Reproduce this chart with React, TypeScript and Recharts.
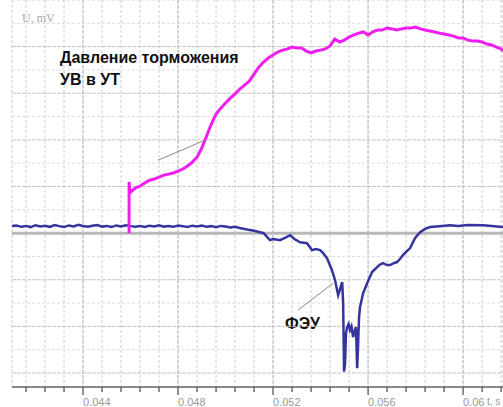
import React from 'react';
import { LineChart, Line, XAxis, YAxis, CartesianGrid, ReferenceLine } from 'recharts';

const xDomain: [number, number] = [0.04101, 0.06168];
const yDomain: [number, number] = [-6.6, 10];

const xMajorTicks = [0.044, 0.048, 0.052, 0.056, 0.06];
const xTickLabels = ['0.044', '0.048', '0.052', '0.056', '0.06'];
const xMinorTicks = [
  0.0416, 0.0424, 0.0432, 0.044, 0.0448, 0.0456, 0.0464, 0.0472, 0.048, 0.0488, 0.0496,
  0.0504, 0.0512, 0.052, 0.0528, 0.0536, 0.0544, 0.0552, 0.056, 0.0568, 0.0576, 0.0584,
  0.0592, 0.06, 0.0608, 0.0616,
];
const yGridValues = [-6, -5, -4, -3, -2, -1, 0, 1, 2, 3, 4, 5, 6, 7, 8, 9];
const yMinorGrid = [-5, -3, -1, 1, 3, 5, 7, 9];
const yMajorGrid = [-6, -4, -2, 2, 4, 6, 8];

// Pressure (magenta) trace
const pressureT = [
  0.04594, 0.04594, 0.04598, 0.046, 0.0462, 0.0464, 0.0466, 0.0468, 0.047, 0.0472, 0.0474,
  0.0476, 0.0478, 0.048, 0.0482, 0.0484, 0.0486, 0.0488, 0.049, 0.0492, 0.0494, 0.0496,
  0.0498, 0.05, 0.0502, 0.0504, 0.0506, 0.0508, 0.051, 0.0512, 0.0514, 0.0516, 0.0518,
  0.052, 0.0522, 0.0524, 0.0526, 0.0528, 0.053, 0.0532, 0.0534, 0.0536, 0.0538, 0.054,
  0.0542, 0.0544, 0.0546, 0.0548, 0.055, 0.0552, 0.0554, 0.0556, 0.0558, 0.056, 0.0562,
  0.0564, 0.0566, 0.0568, 0.057, 0.0572, 0.0574, 0.0576, 0.0578, 0.058, 0.0582, 0.0584,
  0.0586, 0.0588, 0.059, 0.0592, 0.0594, 0.0596, 0.0598, 0.06, 0.0602, 0.0604, 0.0606,
  0.0608, 0.061, 0.0612, 0.0614, 0.0616, 0.06168,
];
const pressureV = [
  0, 2.2, 1.7, 1.76, 1.93, 2.02, 2.15, 2.27, 2.32, 2.4, 2.49,
  2.53, 2.58, 2.66, 2.75, 2.88, 3.05, 3.26, 3.65, 4.16, 4.68, 5.11,
  5.36, 5.58, 5.79, 5.97, 6.18, 6.35, 6.52, 6.82, 7.12, 7.34, 7.51,
  7.64, 7.77, 7.85, 7.9, 7.98, 7.94, 7.94, 7.81, 7.73, 7.81, 7.85,
  7.9, 8.03, 8.33, 8.2, 8.28, 8.41, 8.5, 8.58, 8.63, 8.5, 8.63,
  8.71, 8.71, 8.8, 8.76, 8.71, 8.76, 8.8, 8.8, 8.84, 8.76, 8.71,
  8.67, 8.63, 8.58, 8.54, 8.5, 8.45, 8.37, 8.37, 8.28, 8.24, 8.24,
  8.2, 8.11, 8.07, 7.98, 7.9, 7.81,
];

// Photomultiplier (blue) trace
const pmtT = [
  0.04101, 0.0412, 0.0414, 0.0416, 0.0418, 0.042, 0.0422, 0.0424, 0.0426, 0.0428, 0.043,
  0.0432, 0.0434, 0.0436, 0.0438, 0.044, 0.0442, 0.0444, 0.0446, 0.0448, 0.045, 0.0452,
  0.0454, 0.0456, 0.0458, 0.046, 0.0462, 0.0464, 0.0466, 0.0468, 0.047, 0.0472, 0.0474,
  0.0476, 0.0478, 0.048, 0.0482, 0.0484, 0.0486, 0.0488, 0.049, 0.0492, 0.0494, 0.0496,
  0.0498, 0.05, 0.0502, 0.0504, 0.0506, 0.0508, 0.05103, 0.0512, 0.05145, 0.0516, 0.05187,
  0.052, 0.05229, 0.0525, 0.05272, 0.0529, 0.05314, 0.05343, 0.05364, 0.0538, 0.05398,
  0.0541, 0.05427, 0.05448, 0.05461, 0.05474, 0.05482, 0.05491, 0.05495, 0.05499, 0.05503,
  0.05507, 0.05512, 0.05518, 0.05524, 0.0553, 0.05537, 0.05543, 0.05549, 0.05554, 0.05558,
  0.05562, 0.05566, 0.05579, 0.05596, 0.05617, 0.05638, 0.0565, 0.05663, 0.0568, 0.05693,
  0.0571, 0.05722, 0.05735, 0.05747, 0.0576, 0.05777, 0.05798, 0.05819, 0.0584, 0.05861,
  0.059, 0.05945, 0.0598, 0.0602, 0.06084, 0.0612, 0.06164, 0.06168,
];
const pmtV = [
  0.3, 0.33, 0.27, 0.31, 0.26, 0.34, 0.29, 0.32, 0.27, 0.35, 0.3,
  0.26, 0.33, 0.29, 0.36, 0.31, 0.27, 0.32, 0.35, 0.28, 0.31, 0.26,
  0.33, 0.29, 0.34, 0.3, 0.27, 0.31, 0.26, 0.32, 0.29, 0.34, 0.28,
  0.31, 0.27, 0.33, 0.3, 0.26, 0.32, 0.29, 0.33, 0.27, 0.3, 0.25,
  0.31, 0.28, 0.24, 0.27, 0.22, 0.18, 0.13, 0.1, 0.04, 0.0, -0.3,
  -0.25, -0.3, -0.2, -0.09, -0.25, -0.39, -0.43, -0.73, -0.68, -0.73,
  -0.85, -1.07, -1.59, -2.02, -2.66, -2.4, -2.1, -3.0, -5.94, -5.6,
  -4.3, -4.03, -3.9, -4.16, -4.0, -4.46, -4.2, -4.03, -5.79, -4.8,
  -3.6, -3.18, -2.58, -2.15, -1.67, -1.46, -1.35, -1.29, -1.37, -1.37,
  -1.28, -1.24, -1.1, -0.94, -0.8, -0.64, -0.21, 0.04, 0.18, 0.26,
  0.3, 0.34, 0.31, 0.35, 0.34, 0.31, 0.26, 0.27,
];

const pressureData = pressureT.map((t, i) => ({ t, v: pressureV[i] }));
const pmtData = pmtT.map((t, i) => ({ t, v: pmtV[i] }));

const leader1: [{ x: number; y: number }, { x: number; y: number }] = [
  { x: 0.04716, y: 3.13 },
  { x: 0.04914, y: 3.99 },
];
const leader2: [{ x: number; y: number }, { x: number; y: number }] = [
  { x: 0.05305, y: -3.3 },
  { x: 0.05453, y: -2.15 },
];

const AxisTick = (props: any) => {
  const { x, y, payload } = props;
  const idx = xMajorTicks.findIndex((m) => Math.abs(m - payload.value) < 1e-7);
  const major = idx >= 0;
  return (
    <g>
      <line x1={x} x2={x} y1={y} y2={y + (major ? 8 : 5)} stroke="#555" strokeWidth={1.3} />
      {major && (
        <text x={x} y={y + 19} textAnchor="start" fontSize={11} fill="#999" fontFamily="Liberation Sans Narrow, Arial Narrow, Liberation Sans, sans-serif">
          {xTickLabels[idx]}
        </text>
      )}
    </g>
  );
};

export default function App() {
  return (
    <div style={{ position: 'absolute', left: 0, top: 0, width: 503, height: 407, background: '#fff' }}>
      <LineChart width={503} height={407} margin={{ top: 0, right: 0, left: 12, bottom: 0 }}>
        <CartesianGrid
          vertical={true}
          horizontal={true}
          stroke="#cfcfcf"
          strokeDasharray="3 2"
        />
        <CartesianGrid
          verticalValues={xMajorTicks}
          horizontalValues={yMajorGrid}
          stroke="#c0c0c0"
          strokeDasharray="4 1"
        />
        <XAxis
          type="number"
          dataKey="t"
          domain={xDomain}
          allowDataOverflow
          ticks={xMinorTicks}
          interval={0}
          height={20}
          tickSize={0}
          tickMargin={0}
          tickLine={false}
          axisLine={{ stroke: '#666', strokeWidth: 1.6 }}
          tick={<AxisTick />}
        />
        <YAxis
          type="number"
          domain={yDomain}
          ticks={yGridValues}
          interval={0}
          allowDataOverflow
          width={0}
          tick={false}
          tickLine={false}
          axisLine={{ stroke: '#c0c0c0', strokeWidth: 1.2 }}
        />
        {yMinorGrid.map((v) => (
          <ReferenceLine key={'mi' + v} y={v} stroke="#dcdcdc" strokeDasharray="3 2" />
        ))}
        {yMajorGrid.map((v) => (
          <ReferenceLine key={'ma' + v} y={v} stroke="#c4c4c4" strokeDasharray="4 1" />
        ))}
        <ReferenceLine y={0} stroke="#b8b8b8" strokeWidth={3} />
        <Line data={pmtData} dataKey="v" type="linear" stroke="#34349c" strokeWidth={2.5} dot={false} isAnimationActive={false} />
        <Line data={pressureData} dataKey="v" type="linear" stroke="#f01ef0" strokeWidth={3} dot={false} isAnimationActive={false} />
        <ReferenceLine segment={leader1} stroke="#888" strokeWidth={1} />
        <ReferenceLine segment={leader2} stroke="#888" strokeWidth={1} />
        <text x={22} y={22} fontSize={12} fill="#a8a8a8" fontFamily="Liberation Serif, serif">U, mV</text>
        <text x={60} y={63} fontSize={16} fontWeight="bold" fill="#111" fontFamily="Liberation Sans, Arial, sans-serif">Давление торможения</text>
        <text x={60} y={85} fontSize={16} fontWeight="bold" fill="#111" fontFamily="Liberation Sans, Arial, sans-serif">УВ в УТ</text>
        <text x={285} y={329} fontSize={16} fontWeight="bold" fill="#111" fontFamily="Liberation Sans, Arial, sans-serif">ФЭУ</text>
        <text x={487} y={405} fontSize={10} fill="#999" fontFamily="Liberation Sans, sans-serif">t, s</text>
      </LineChart>
    </div>
  );
}
